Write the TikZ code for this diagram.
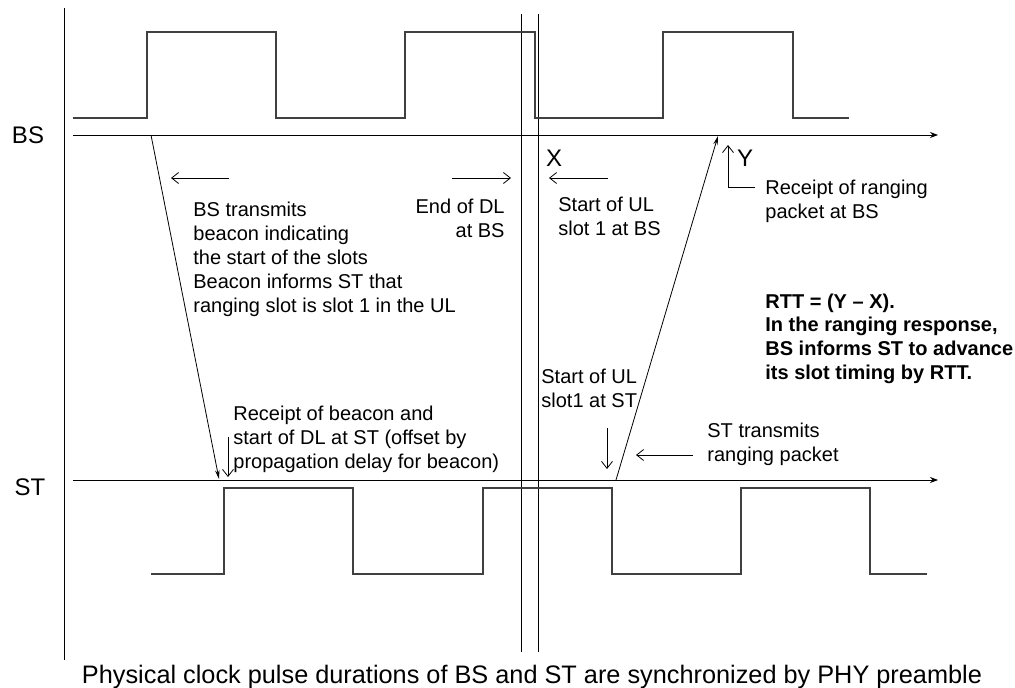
\documentclass[tikz,border=0pt]{standalone}
\usepackage{fontspec}
\setmainfont{Liberation Sans}
\usetikzlibrary{arrows.meta}

\begin{document}
\begin{tikzpicture}[x=1pt, y=-1pt, line width=0.8pt,
		every node/.style={inner sep=0pt, font=\fontsize{20}{24}\selectfont},
		big/.style={font=\fontsize{24}{29}\selectfont},
		note/.style={align=left, anchor=base west},
		axis/.style={-{Stealth[length=8pt, width=6pt]}},
		pulse/.style={draw=black!75, line width=1.1pt},
		hint/.style={-{Straight Barb[length=7pt, width=11pt]}},
		msg/.style={-{Stealth[length=9pt, width=4.5pt]}}]
	\useasboundingbox (0,0) rectangle (1015,688);
	% time axes and markers
	\coordinate (bs0) at (73,135);
	\coordinate (bs1) at (938,135);
	\coordinate (st0) at (73,480);
	\coordinate (st1) at (938,480);
	\draw[axis] (bs0) -- (bs1);
	\draw[axis] (st0) -- (st1);
	\draw (64,8) -- (64,660);
	\draw (521.5,14) -- (521.5,652);
	\draw (538.3,14) -- (538.3,652);
	% clock pulses
	\draw[pulse] (73,118) -- (147,118) -- (147,32) -- (276,32) -- (276,118) -- (405,118) -- (405,32) -- (535,32) -- (535,118) -- (663,118) -- (663,32) -- (793,32) -- (793,118) -- (849,118);
	\draw[pulse] (151,574) -- (224,574) -- (224,488) -- (353,488) -- (353,574) -- (483,574) -- (483,488) -- (612,488) -- (612,574) -- (741,574) -- (741,488) -- (870,488) -- (870,574) -- (927,574);
	% labels (base = last line)
	\node[big, anchor=base] (bs) at (28,143) {BS};
	\node[big, anchor=base] (st) at (30,495) {ST};
	\node[big, anchor=base] (x) at (554,166) {X};
	\node[big, anchor=base] (y) at (745,166) {Y};
	\node[note] (bstx) at (193,312.5) {BS transmits\\beacon indicating\\the start of the slots\\Beacon informs ST that\\ranging slot is slot 1 in the UL};
	\node[align=right, anchor=base east] (enddl) at (505,237.5) {End of DL\\at BS};
	\node[note] (ulbs) at (558,235.5) {Start of UL\\slot 1 at BS};
	\node[note] (rxbs) at (765,218) {Receipt of ranging\\packet at BS};
	\node[note, font=\fontsize{20}{23.6}\selectfont\bfseries] (rtt) at (765,379) {RTT = (Y -- X).\\In the ranging response,\\BS informs ST to advance\\its slot timing by RTT.};
	\node[note] (rxst) at (233,468.3) {Receipt of beacon and\\start of DL at ST (offset by\\propagation delay for beacon)};
	\node[note] (ulst) at (541,407.3) {Start of UL\\slot1 at ST};
	\node[note] (txst) at (707,461.5) {ST transmits\\ranging packet};
	\node[font=\fontsize{25.3}{30}\selectfont, anchor=base] (cap) at (532,683) {Physical clock pulse durations of BS and ST are synchronized by PHY preamble};
	% messages
	\coordinate (btx) at (151,135);
	\coordinate (brx) at (219,479);
	\coordinate (rtx) at (616,480);
	\coordinate (rrx) at (718,136);
	\draw[msg] (btx) -- (brx);
	\draw[msg] (rtx) -- (rrx);
	% pointers
	\coordinate (a1) at (229,178);
	\coordinate (a2) at (171,178);
	\coordinate (b1) at (452,178);
	\coordinate (b2) at (511,178);
	\coordinate (c1) at (608,178);
	\coordinate (c2) at (549,178);
	\coordinate (d0) at (755,187);
	\coordinate (d1) at (728,187);
	\coordinate (d2) at (728,145);
	\coordinate (e1) at (228,437);
	\coordinate (e2) at (228,477);
	\coordinate (f1) at (607,428);
	\coordinate (f2) at (607,469);
	\coordinate (g1) at (693,455);
	\coordinate (g2) at (636,455);
	\draw[hint] (a1) -- (a2);
	\draw[hint] (b1) -- (b2);
	\draw[hint] (c1) -- (c2);
	\draw[hint] (d0) -- (d1) -- (d2);
	\draw[hint] (e1) -- (e2);
	\draw[hint] (f1) -- (f2);
	\draw[hint] (g1) -- (g2);
\end{tikzpicture}
\end{document}
